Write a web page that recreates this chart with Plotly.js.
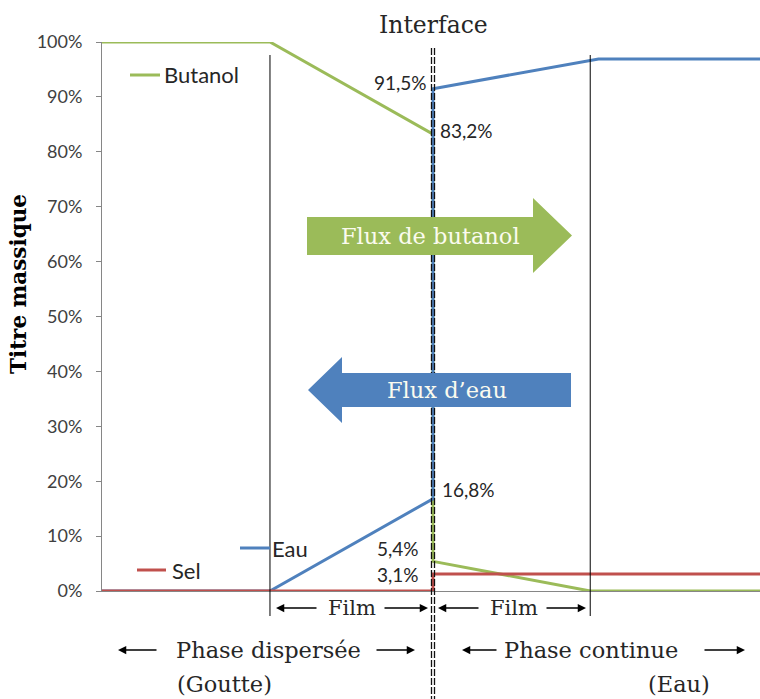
<!DOCTYPE html>
<html>
<head>
<meta charset="utf-8">
<script src="https://cdn.plot.ly/plotly-3.0.1.min.js"></script>
<style>html,body{margin:0;padding:0;background:#fff;}#chart{width:760px;height:699px;}</style>
</head>
<body>
<div id="chart"></div>
<script>
// Positions along the profile (arbitrary distance units)
const butanolX = [0, 1.015, 2, 2, 2.95, 3.98];
const butanolY = [1.00, 1.00, 0.832, 0.054, 0, 0];
const eauX = [0, 1.015, 2, 2, 3.0, 3.98];
const eauY = [0, 0, 0.168, 0.915, 0.969, 0.969];
const selX = [0, 2, 2, 3.98];
const selY = [0, 0, 0.031, 0.031];
const seriesNames = ["Butanol", "Eau", "Sel"];
const yTickVals = [0, 0.1, 0.2, 0.3, 0.4, 0.5, 0.6, 0.7, 0.8, 0.9, 1.0];
const yTickText = ["0%", "10%", "20%", "30%", "40%", "50%", "60%", "70%", "80%", "90%", "100%"];
const filmStartX = 1.015, interfaceX = 2, filmEndX = 2.95;

const GREEN = "#9BBB59", BLUE = "#4F81BD", RED = "#C0504D";
const SERIF = "DejaVu Serif, serif";
const SANS = "Lato, Open Sans, sans-serif";

// pixel helpers (plot area: x 102..760, y 42..591)
const PX_PER_X = 165.5;
const xs = p => (p - 102) / PX_PER_X;
const ys = p => (591 - p) / 549;

const traces = [
  {x: butanolX, y: butanolY, name: seriesNames[0], mode: "lines", line: {color: GREEN, width: 3}, cliponaxis: false},
  {x: eauX, y: eauY, name: seriesNames[1], mode: "lines", line: {color: BLUE, width: 3}, cliponaxis: false},
  {x: selX, y: selY, name: seriesNames[2], mode: "lines", line: {color: RED, width: 3}, cliponaxis: false}
];

function poly(pts) {
  return "M " + pts.map(p => xs(p[0]) + "," + ys(p[1])).join(" L ") + " Z";
}

const shapes = [
  {type: "line", xref: "x", yref: "paper", x0: filmStartX, x1: filmStartX, y0: ys(55), y1: ys(616), line: {color: "#000", width: 1}},
  {type: "line", xref: "x", yref: "paper", x0: filmEndX, x1: filmEndX, y0: ys(55), y1: ys(616), line: {color: "#000", width: 1}},
  {type: "line", xref: "x", yref: "paper", xsizemode: "pixel", xanchor: interfaceX, x0: -1.5, x1: -1.5, y0: ys(48), y1: ys(700), line: {color: "#111", width: 1.3, dash: "7px,2px"}},
  {type: "line", xref: "x", yref: "paper", xsizemode: "pixel", xanchor: interfaceX, x0: 1.5, x1: 1.5, y0: ys(48), y1: ys(700), line: {color: "#111", width: 1.3, dash: "7px,2px"}},
  {type: "path", xref: "x", yref: "y", path: poly([[307,217],[533,217],[533,198],[572,235.5],[533,273],[533,255],[307,255]]), fillcolor: GREEN, line: {width: 0}},
  {type: "path", xref: "x", yref: "y", path: poly([[571,373],[342,373],[342,357],[308,390],[342,423],[342,407],[571,407]]), fillcolor: BLUE, line: {width: 0}},
  {type: "line", xref: "x", yref: "y", x0: xs(130), x1: xs(160), y0: ys(75), y1: ys(75), line: {color: GREEN, width: 3}},
  {type: "line", xref: "x", yref: "y", x0: xs(240), x1: xs(270), y0: ys(548), y1: ys(548), line: {color: BLUE, width: 3}},
  {type: "line", xref: "x", yref: "y", x0: xs(137), x1: xs(166), y0: ys(570), y1: ys(570), line: {color: RED, width: 3}}
];

const txt = "#262626";
function ann(text, px, py, size, family, anchor, color) {
  return {text: text, xref: "x", yref: "paper", x: xs(px), y: ys(py), showarrow: false,
    xanchor: anchor || "center", yanchor: "middle", font: {size: size, family: family, color: color || txt}};
}
function arrow(fromPx, toPx, py) {
  return {text: "", xref: "x", yref: "paper", x: xs(toPx), y: ys(py), ax: fromPx - toPx, ay: 0, axref: "pixel", ayref: "pixel",
    showarrow: true, arrowhead: 2, arrowsize: 1.1, arrowwidth: 1.5, arrowcolor: "#000"};
}
function dlab(text, yv, anchor, dx, dy) {
  return {text: text, xref: "x", yref: "y", x: interfaceX, y: yv, showarrow: false, xanchor: anchor, yanchor: "middle",
    xshift: dx, yshift: dy, font: {size: 19, family: SANS, color: txt}};
}

const annotations = [
  ann("Interface", 433, 25, 23.5, SERIF),
  ann("Flux de butanol", 430, 236, 22.5, SERIF, "center", "#FBFBEF"),
  ann("Flux d\u2019eau", 447, 390, 22.5, SERIF, "center", "#FBFBEF"),
  ann(seriesNames[0], 162, 75, 22, SANS, "left"),
  ann(seriesNames[1], 270, 548, 22, SANS, "left"),
  ann(seriesNames[2], 170, 570, 22, SANS, "left"),
  dlab("91,5%", eauY[3], "right", -4, 6),
  dlab("83,2%", butanolY[2], "left", 5, 4),
  dlab("16,8%", eauY[2], "left", 7, 9),
  dlab("5,4%", butanolY[3], "right", -12, 13),
  dlab("3,1%", selY[2], "right", -12, -1),
  ann("Film", 352, 608, 21, SERIF),
  arrow(318, 276, 608), arrow(383, 428, 608),
  ann("Film", 514, 608, 21, SERIF),
  arrow(480, 438, 608), arrow(545, 586, 608),
  ann("Phase dispersée", 268, 650, 22.5, SERIF),
  arrow(158, 118, 650), arrow(375, 415, 650),
  ann("(Goutte)", 175, 684, 22.5, SERIF, "left"),
  ann("Phase continue", 591, 650, 22.5, SERIF),
  arrow(498, 462, 650), arrow(703, 745, 650),
  ann("(Eau)", 712, 684, 22.5, SERIF, "right"),
  {text: "<b>Titre massique</b>", xref: "paper", yref: "paper", x: (18 - 102) / 658, y: ys(284), showarrow: false,
    textangle: -90, xanchor: "center", yanchor: "middle", font: {size: 21.5, family: SERIF, color: "#000"}}
];

const layout = {
  width: 760, height: 699,
  margin: {l: 102, r: 0, t: 42, b: 108},
  paper_bgcolor: "#fff", plot_bgcolor: "#fff",
  showlegend: false,
  xaxis: {range: [0, 658 / PX_PER_X], showline: true, linecolor: "#868686", linewidth: 1, showgrid: false, zeroline: false,
    showticklabels: false, ticks: "", fixedrange: true},
  yaxis: {range: [0, 1], tickvals: yTickVals, ticktext: yTickText, ticks: "outside", ticklen: 5, tickcolor: "#868686",
    showline: true, linecolor: "#868686", linewidth: 1, showgrid: false, zeroline: false, ticklabelstandoff: 10,
    tickfont: {size: 18, family: SANS, color: "#404040"}, fixedrange: true},
  shapes: shapes,
  annotations: annotations
};

Plotly.newPlot("chart", traces, layout, {displayModeBar: false, staticPlot: true});
</script>
</body>
</html>
